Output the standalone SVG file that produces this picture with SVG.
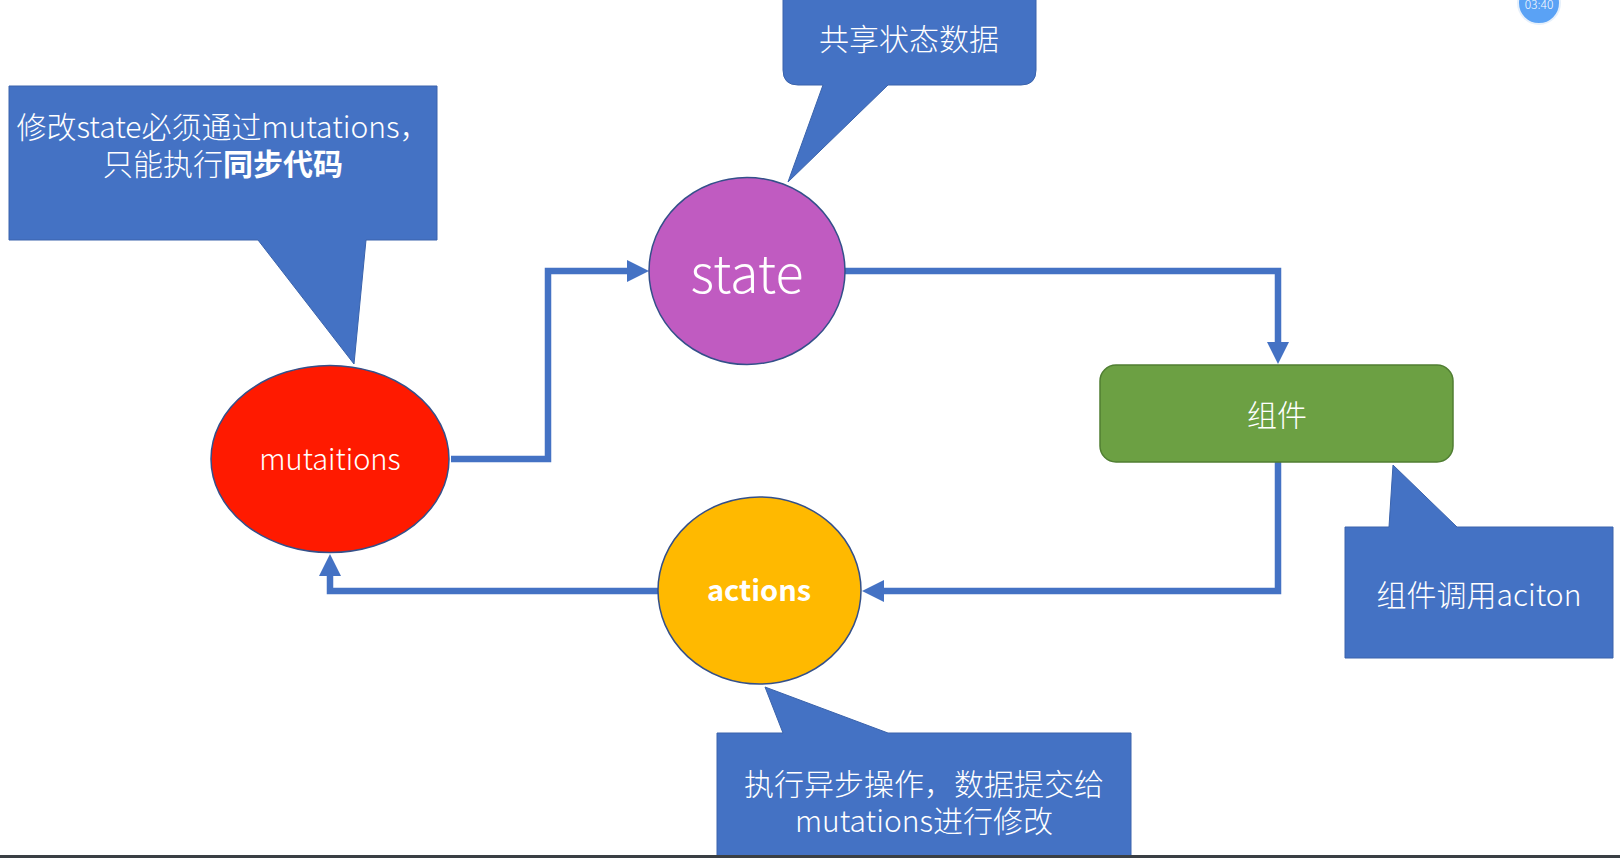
<svg xmlns="http://www.w3.org/2000/svg" width="1620" height="858" viewBox="0 0 1620 858">
<style>
text{font-family:"Noto Sans CJK SC","Noto Sans",sans-serif;fill:#fff;font-weight:300}
.b{font-weight:bold}
.callout{fill:#4472C4;stroke:#3A63AC;stroke-width:1}
.conn{fill:none;stroke:#4472C4;stroke-width:6.5}
.node{stroke:#34508A;stroke-width:1.5}
</style>
<defs>
<marker id="arr" viewBox="0 0 22 22" refX="1" refY="11" markerWidth="22" markerHeight="22" markerUnits="userSpaceOnUse" orient="auto">
<path d="M0,0 L22,11 L0,22 Z" fill="#4472C4"/>
</marker>
</defs>
<rect width="1620" height="858" fill="#fff"/>

<g id="connectors">
<path class="conn" d="M451 459 H548 V271 H628" marker-end="url(#arr)"/>
<path class="conn" d="M845 271 H1278 V343" marker-end="url(#arr)"/>
<path class="conn" d="M1278 462 V591 H883" marker-end="url(#arr)"/>
<path class="conn" d="M658 591 H330 V575" marker-end="url(#arr)"/>
</g>

<g id="note-mutations">
<path class="callout" d="M9 86 H437 V240 H366 L354 364 L258 240 H9 Z"/>
<text font-size="30" text-anchor="middle"><tspan x="223" y="138">修改state必须通过mutations，</tspan><tspan x="223" y="175">只能执行<tspan class="b">同步代码</tspan></tspan></text>
</g>

<g id="note-state">
<path class="callout" d="M798 -20 H1021 Q1036 -20 1036 -5 V70 Q1036 85 1021 85 H888 L788 182 L823 85 H798 Q783 85 783 70 V-5 Q783 -20 798 -20 Z"/>
<text x="909" y="50" font-size="30" text-anchor="middle">共享状态数据</text>
</g>

<g id="note-component">
<path class="callout" d="M1345 527 H1389 L1393 465 L1457 527 H1613 V658 H1345 Z"/>
<text x="1479" y="606" font-size="30" text-anchor="middle">组件调用aciton</text>
</g>

<g id="note-actions">
<path class="callout" d="M717 733 H783 L765 687 L888 733 H1131 V870 H717 Z"/>
<text font-size="30" text-anchor="middle"><tspan x="924" y="795">执行异步操作，数据提交给</tspan><tspan x="924" y="832">mutations进行修改</tspan></text>
</g>

<g id="mutations">
<ellipse class="node" cx="330" cy="459" rx="119" ry="93.5" fill="#FF1A00"/>
<text x="330" y="470" font-size="29" text-anchor="middle">mutaitions</text>
</g>

<g id="state">
<ellipse class="node" cx="747" cy="271" rx="98" ry="93.5" fill="#C05BC1"/>
<text x="747" y="293" font-size="52" text-anchor="middle">state</text>
</g>

<g id="component">
<rect x="1100" y="365" width="353" height="97" rx="16" fill="#6CA043" stroke="#507E32" stroke-width="1.5"/>
<text x="1277" y="426" font-size="30" text-anchor="middle">组件</text>
</g>

<g id="actions">
<ellipse class="node" cx="759.5" cy="590.5" rx="101.5" ry="93.5" fill="#FFB900"/>
<text x="759" y="601" font-size="29" class="b" text-anchor="middle">actions</text>
</g>

<g id="clock">
<circle cx="1539" cy="3" r="21" fill="#5AA2F5" stroke="#E6F0FB" stroke-width="2"/>
<text x="1539" y="9" font-size="12" text-anchor="middle">03:40</text>
</g>
<rect x="0" y="855" width="1620" height="3" fill="#3A3F44"/>
</svg>
